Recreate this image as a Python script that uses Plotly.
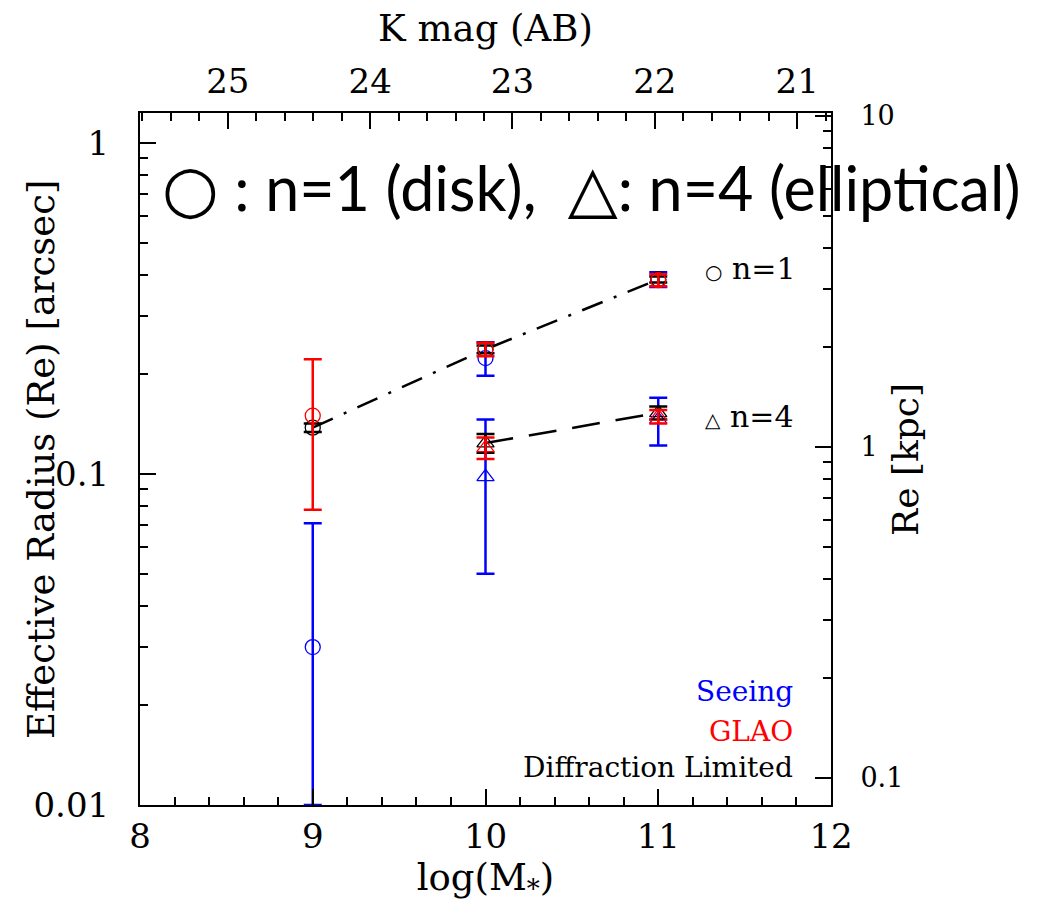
import plotly.graph_objects as go

# ---- data ----
logm_n1 = [9, 10, 11]
logm_n4 = [10, 11]

seeing_n1 = [0.030, 0.224, 0.387]
seeing_n1_errp = [0.041, 0.026, 0.020]
seeing_n1_errm = [0.020, 0.026, 0.020]
seeing_n4 = [0.098, 0.146]
seeing_n4_err = [0.048, 0.024]

glao_n1 = [0.150, 0.238, 0.385]
glao_n1_err = [0.072, 0.011, 0.016]
glao_n4 = [0.120, 0.149]
glao_n4_err = [0.009, 0.007]

dl_n1 = [0.138, 0.238, 0.387]
dl_n1_err = [0.004, 0.0065, 0.008]
dl_n4 = [0.124, 0.153]
dl_n4_err = [0.008, 0.007]

x_ticks = [8, 9, 10, 11, 12]
kmag_ticks = [25, 24, 23, 22, 21]
y_ticks = [0.01, 0.1, 1]
y_tick_text = ["0.01", "0.1", "1"]
kpc_ticks = [0.1, 1, 10]
kpc_tick_text = ["0.1", "1", "10"]

BLUE = "#0000ff"
RED = "#ff0000"
BLACK = "#000000"
SERIF = "DejaVu Serif"

fig = go.Figure()


def add_series(x, y, errp, errm, color, symbol, line=None):
    fig.add_trace(go.Scatter(
        x=x, y=y,
        mode="markers" + ("+lines" if line else ""),
        marker=dict(symbol=symbol, size=15, color=color,
                    line=dict(color=color, width=1.3)),
        line=line if line else None,
        error_y=dict(type="data", symmetric=False, array=errp, arrayminus=errm,
                     color=color, thickness=2.5, width=9),
        showlegend=False, hoverinfo="skip",
    ))


# Seeing (blue)
add_series(logm_n1, seeing_n1, seeing_n1_errp, seeing_n1_errm, BLUE, "circle-open")
add_series(logm_n4, seeing_n4, seeing_n4_err, seeing_n4_err, BLUE, "triangle-up-open")
# Diffraction limited (black) with connecting lines
add_series(logm_n1, dl_n1, dl_n1_err, dl_n1_err, BLACK, "circle-open",
           line=dict(color=BLACK, width=2.5, dash="22px,12px,3px,12px"))
add_series(logm_n4, dl_n4, dl_n4_err, dl_n4_err, BLACK, "triangle-up-open",
           line=dict(color=BLACK, width=2.5, dash="28px,16px"))
# GLAO (red)
add_series(logm_n1, glao_n1, glao_n1_err, glao_n1_err, RED, "circle-open")
add_series(logm_n4, glao_n4, glao_n4_err, glao_n4_err, RED, "triangle-up-open")

# helper traces to register secondary axes
fig.add_trace(go.Scatter(x=kmag_ticks, y=[None] * len(kmag_ticks), xaxis="x2", yaxis="y",
                         mode="lines", showlegend=False, hoverinfo="skip"))
fig.add_trace(go.Scatter(x=x_ticks, y=[None] * len(x_ticks), xaxis="x", yaxis="y2",
                         mode="lines", showlegend=False, hoverinfo="skip"))

tickfont = dict(family=SERIF, size=34, color=BLACK)
titlefont = dict(family=SERIF, size=37, color=BLACK)

fig.update_layout(
    width=1044, height=906,
    margin=dict(l=140, r=213, t=113, b=101),
    plot_bgcolor="white", paper_bgcolor="white",
    xaxis=dict(
        range=[8, 12], tickvals=x_ticks, ticks="inside", ticklen=16, tickwidth=1.5,
        tickcolor=BLACK, showline=True, linecolor=BLACK, linewidth=2, mirror=False,
        showgrid=False, zeroline=False, tickfont=tickfont, automargin=False,
        minor=dict(dtick=0.2, tick0=8, ticks="inside", ticklen=8, tickwidth=1.5,
                   tickcolor=BLACK, showgrid=False),
        title=dict(text="log(M<sub>*</sub>)", font=titlefont, standoff=4),
    ),
    xaxis2=dict(
        overlaying="x", side="top", range=[25.617, 20.762], tickvals=kmag_ticks,
        ticks="inside", ticklen=16, tickwidth=1.5, tickcolor=BLACK,
        showline=True, linecolor=BLACK, linewidth=2, showgrid=False, zeroline=False,
        tickfont=tickfont, automargin=False, ticklabelstandoff=4,
        minor=dict(dtick=0.2, tick0=21, ticks="inside", ticklen=8, tickwidth=1.5,
                   tickcolor=BLACK, showgrid=False),
        title=dict(text="K mag (AB)", font=titlefont, standoff=8),
    ),
    yaxis=dict(
        type="log", range=[-2, 0.0906], tickvals=y_ticks, ticktext=y_tick_text,
        ticks="inside", ticklen=16, tickwidth=1.5, tickcolor=BLACK,
        showline=True, linecolor=BLACK, linewidth=2, showgrid=False, zeroline=False,
        tickfont=tickfont, ticklabelstandoff=22, automargin=False,
        minor=dict(tickvals=[0.02, 0.03, 0.04, 0.05, 0.06, 0.07, 0.08, 0.09,
                             0.2, 0.3, 0.4, 0.5, 0.6, 0.7, 0.8, 0.9],
                   ticks="inside", ticklen=8, tickwidth=1.5, tickcolor=BLACK,
                   showgrid=False),
    ),
    yaxis2=dict(
        type="log", overlaying="y", side="right", range=[-1.0816, 1.0091],
        tickvals=kpc_ticks, ticktext=kpc_tick_text,
        ticks="inside", ticklen=16, tickwidth=1.5, tickcolor=BLACK,
        showline=True, linecolor=BLACK, linewidth=2, showgrid=False, zeroline=False,
        tickfont=dict(family=SERIF, size=27, color=BLACK), ticklabelstandoff=22,
        automargin=False,
        minor=dict(tickvals=[0.2, 0.3, 0.4, 0.5, 0.6, 0.7, 0.8, 0.9,
                             2, 3, 4, 5, 6, 7, 8, 9],
                   ticks="inside", ticklen=8, tickwidth=1.5, tickcolor=BLACK,
                   showgrid=False),
    ),
)

big_text = ("<span style='font-family:\"DejaVu Sans\";font-size:65px'>○</span> : n=1 (disk),  "
            "<span style='font-family:\"DejaVu Sans\";font-size:65px'>△</span>: n=4 (elliptical)")

annotations = [
    dict(text="Effective Radius (Re) [arcsec]", xref="paper", yref="paper",
         x=-0.1418, y=0.4986, xanchor="center", yanchor="middle", textangle=-90,
         showarrow=False, font=titlefont),
    dict(text="Re [kpc]", xref="paper", yref="paper",
         x=1.107, y=0.5, xanchor="center", yanchor="middle", textangle=-90,
         showarrow=False, font=dict(family=SERIF, size=36, color=BLACK)),
    dict(text=big_text, xref="paper", yref="paper",
         x=0.0289, y=0.8916, xanchor="left", yanchor="middle", showarrow=False,
         font=dict(family="Lato", size=61, color=BLACK)),
    dict(text="<span style='font-size:20px'>○</span> n=1", xref="paper", yref="paper",
         x=0.8148, y=0.776, xanchor="left", yanchor="middle", showarrow=False,
         font=dict(family=SERIF, size=30, color=BLACK)),
    dict(text="<span style='font-size:20px'>△</span> n=4", xref="paper", yref="paper",
         x=0.8148, y=0.5607, xanchor="left", yanchor="middle", showarrow=False,
         font=dict(family=SERIF, size=30, color=BLACK)),
    dict(text="Seeing", xref="paper", yref="paper", x=0.948, y=0.1633,
         xanchor="right", yanchor="middle", showarrow=False,
         font=dict(family=SERIF, size=28, color=BLUE)),
    dict(text="GLAO", xref="paper", yref="paper", x=0.948, y=0.1069,
         xanchor="right", yanchor="middle", showarrow=False,
         font=dict(family=SERIF, size=28, color=RED)),
    dict(text="Diffraction Limited", xref="paper", yref="paper", x=0.948, y=0.0535,
         xanchor="right", yanchor="middle", showarrow=False,
         font=dict(family=SERIF, size=28, color=BLACK)),
]
fig.update_layout(annotations=annotations)

fig.write_html("out.html")
